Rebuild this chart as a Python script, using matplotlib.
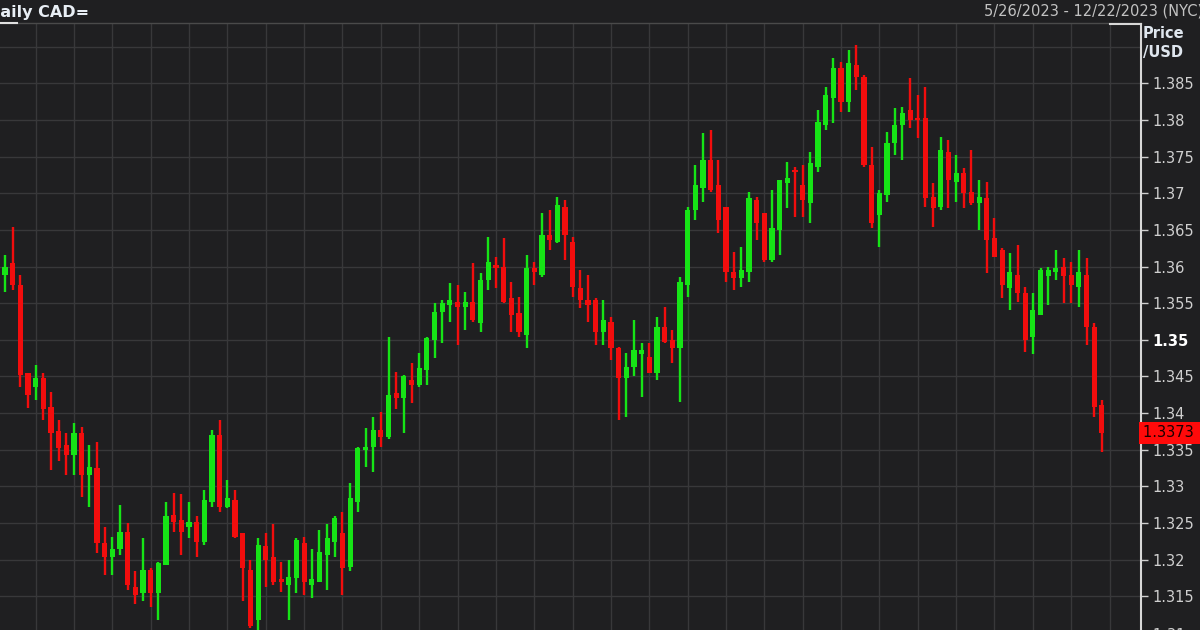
import numpy as np
import matplotlib.pyplot as plt
import matplotlib.transforms as mtransforms

# daily USD/CAD candles (oldest first)
opens = [1.3589, 1.3605, 1.3575, 1.3455, 1.3435, 1.3448, 1.3409, 1.3375, 1.3357, 1.3343,
         1.3373, 1.3316, 1.3325, 1.3223, 1.3204, 1.3214, 1.3238, 1.3163, 1.3155, 1.3186,
         1.3155, 1.3193, 1.3261, 1.3254, 1.3244, 1.3252, 1.3224, 1.3278, 1.3370, 1.3272,
         1.3282, 1.3237, 1.3186, 1.3118, 1.3218, 1.3203, 1.3173, 1.3166, 1.3175, 1.3223,
         1.3166, 1.3170, 1.3207, 1.3224, 1.3237, 1.3190, 1.3279, 1.3350, 1.3354, 1.3377,
         1.3368, 1.3428, 1.3421, 1.3445, 1.3439, 1.3459, 1.3500, 1.3538, 1.3548, 1.3552,
         1.3545, 1.3552, 1.3523, 1.3582, 1.3602, 1.3600, 1.3557, 1.3537, 1.3507, 1.3598,
         1.3589, 1.3643, 1.3634, 1.3681, 1.3634, 1.3571, 1.3555, 1.3555, 1.3510, 1.3525,
         1.3489, 1.3448, 1.3463, 1.3480, 1.3477, 1.3455, 1.3518, 1.3500, 1.3489, 1.3575,
         1.3677, 1.3707, 1.3746, 1.3711, 1.3681, 1.3593, 1.3585, 1.3593, 1.3691, 1.3673,
         1.3609, 1.3650, 1.3714, 1.3732, 1.3711, 1.3687, 1.3736, 1.3793, 1.3830, 1.3871,
         1.3825, 1.3875, 1.3859, 1.3739, 1.3671, 1.3698, 1.3769, 1.3793, 1.3814, 1.3803,
         1.3803, 1.3695, 1.3681, 1.3756, 1.3716, 1.3728, 1.3702, 1.3687, 1.3694, 1.3639,
         1.3623, 1.3571, 1.3589, 1.3564, 1.3504, 1.3534, 1.3587, 1.3593, 1.3600, 1.3589,
         1.3572, 1.3589, 1.3518, 1.3411]
highs = [1.3616, 1.3654, 1.3589, 1.3455, 1.3466, 1.3455, 1.3429, 1.3391, 1.3373, 1.3387,
         1.3381, 1.3357, 1.3360, 1.3244, 1.3231, 1.3275, 1.3250, 1.3184, 1.3230, 1.3189,
         1.3197, 1.3279, 1.3291, 1.3289, 1.3278, 1.3259, 1.3295, 1.3377, 1.3391, 1.3309,
         1.3295, 1.3237, 1.3200, 1.3230, 1.3237, 1.3248, 1.3197, 1.3200, 1.3230, 1.3231,
         1.3214, 1.3241, 1.3248, 1.3259, 1.3265, 1.3305, 1.3354, 1.3380, 1.3395, 1.3402,
         1.3504, 1.3456, 1.3452, 1.3469, 1.3482, 1.3504, 1.3550, 1.3555, 1.3578, 1.3575,
         1.3565, 1.3605, 1.3591, 1.3641, 1.3613, 1.3639, 1.3579, 1.3559, 1.3616, 1.3606,
         1.3673, 1.3677, 1.3695, 1.3691, 1.3641, 1.3595, 1.3589, 1.3557, 1.3555, 1.3531,
         1.3490, 1.3482, 1.3527, 1.3496, 1.3496, 1.3531, 1.3545, 1.3514, 1.3586, 1.3681,
         1.3739, 1.3782, 1.3786, 1.3746, 1.3681, 1.3620, 1.3627, 1.3702, 1.3695, 1.3673,
         1.3705, 1.3718, 1.3743, 1.3736, 1.3739, 1.3756, 1.3814, 1.3845, 1.3885, 1.3879,
         1.3896, 1.3902, 1.3861, 1.3763, 1.3705, 1.3784, 1.3816, 1.3818, 1.3857, 1.3834,
         1.3845, 1.3714, 1.3777, 1.3773, 1.3752, 1.3735, 1.3759, 1.3718, 1.3716, 1.3666,
         1.3625, 1.3619, 1.3630, 1.3572, 1.3564, 1.3598, 1.3600, 1.3623, 1.3612, 1.3606,
         1.3623, 1.3612, 1.3523, 1.3418]
lows = [1.3565, 1.3568, 1.3436, 1.3407, 1.3418, 1.3391, 1.3323, 1.3334, 1.3316, 1.3316,
        1.3286, 1.3272, 1.3209, 1.3179, 1.3179, 1.3207, 1.3159, 1.3139, 1.3143, 1.3136,
        1.3118, 1.3193, 1.3238, 1.3207, 1.3230, 1.3204, 1.3220, 1.3272, 1.3265, 1.3271,
        1.3230, 1.3143, 1.3107, 1.3104, 1.3162, 1.3166, 1.3156, 1.3118, 1.3155, 1.3152,
        1.3148, 1.3169, 1.3159, 1.3204, 1.3152, 1.3184, 1.3265, 1.3327, 1.3320, 1.3354,
        1.3364, 1.3405, 1.3373, 1.3414, 1.3436, 1.3439, 1.3475, 1.3496, 1.3525, 1.3493,
        1.3514, 1.3525, 1.3510, 1.3568, 1.3571, 1.3550, 1.3511, 1.3504, 1.3489, 1.3575,
        1.3586, 1.3623, 1.3632, 1.3609, 1.3559, 1.3544, 1.3525, 1.3493, 1.3493, 1.3473,
        1.3391, 1.3394, 1.3450, 1.3422, 1.3455, 1.3445, 1.3496, 1.3469, 1.3415, 1.3559,
        1.3664, 1.3688, 1.3702, 1.3646, 1.3579, 1.3568, 1.3572, 1.3579, 1.3636, 1.3606,
        1.3606, 1.3616, 1.3680, 1.3668, 1.3668, 1.3660, 1.3729, 1.3786, 1.3796, 1.3811,
        1.3811, 1.3841, 1.3736, 1.3653, 1.3627, 1.3688, 1.3752, 1.3746, 1.3789, 1.3776,
        1.3681, 1.3654, 1.3677, 1.3680, 1.3688, 1.3680, 1.3684, 1.3650, 1.3591, 1.3613,
        1.3557, 1.3541, 1.3552, 1.3484, 1.3480, 1.3534, 1.3548, 1.3582, 1.3550, 1.3550,
        1.3545, 1.3493, 1.3394, 1.3347]
closes = [1.3600, 1.3575, 1.3452, 1.3425, 1.3448, 1.3405, 1.3373, 1.3353, 1.3343, 1.3373,
          1.3316, 1.3327, 1.3223, 1.3203, 1.3214, 1.3238, 1.3166, 1.3152, 1.3186, 1.3155,
          1.3196, 1.3259, 1.3252, 1.3238, 1.3252, 1.3224, 1.3282, 1.3370, 1.3272, 1.3284,
          1.3231, 1.3189, 1.3109, 1.3220, 1.3200, 1.3170, 1.3169, 1.3177, 1.3227, 1.3170,
          1.3173, 1.3211, 1.3230, 1.3257, 1.3189, 1.3284, 1.3353, 1.3354, 1.3377, 1.3368,
          1.3425, 1.3421, 1.3450, 1.3439, 1.3462, 1.3503, 1.3538, 1.3550, 1.3555, 1.3545,
          1.3552, 1.3527, 1.3582, 1.3606, 1.3598, 1.3552, 1.3534, 1.3510, 1.3598, 1.3593,
          1.3643, 1.3636, 1.3684, 1.3643, 1.3572, 1.3555, 1.3548, 1.3511, 1.3527, 1.3489,
          1.3448, 1.3463, 1.3486, 1.3486, 1.3455, 1.3518, 1.3497, 1.3489, 1.3579, 1.3677,
          1.3711, 1.3746, 1.3705, 1.3664, 1.3593, 1.3585, 1.3595, 1.3694, 1.3660, 1.3609,
          1.3653, 1.3718, 1.3721, 1.3729, 1.3691, 1.3741, 1.3797, 1.3834, 1.3871, 1.3825,
          1.3878, 1.3859, 1.3739, 1.3660, 1.3701, 1.3769, 1.3793, 1.3810, 1.3800, 1.3800,
          1.3694, 1.3680, 1.3759, 1.3718, 1.3728, 1.3701, 1.3687, 1.3695, 1.3636, 1.3613,
          1.3575, 1.3593, 1.3564, 1.3500, 1.3541, 1.3595, 1.3595, 1.3598, 1.3587, 1.3575,
          1.3593, 1.3518, 1.3409, 1.3373]

ytick_vals = [1.385, 1.38, 1.375, 1.37, 1.365, 1.36, 1.355, 1.35, 1.345, 1.34,
              1.335, 1.33, 1.325, 1.32, 1.315]
last_price = "1.3373"

bg = '#1f1f21'
grid_c = '#38383a'
up_c = '#16e416'
down_c = '#f20d0d'
text_c = '#cfcfcf'

o = np.array(opens)
h = np.array(highs)
l = np.array(lows)
c = np.array(closes)
x = np.arange(len(o))
up = c >= o
cols = np.where(up, up_c, down_c)

fig = plt.figure(figsize=(12, 6.3), dpi=100)
fig.patch.set_facecolor(bg)
ax = fig.add_axes([0, 0, 1141 / 1200, 1 - 24 / 630])
ax.set_facecolor(bg)

# grid: weekly verticals, 0.005 horizontals
for gx in range(4, len(o) + 5, 5):
    ax.axvline(gx, color=grid_c, lw=1.0, zorder=0)
for gy in np.arange(1.31, 1.3951, 0.005):
    ax.axhline(gy, color=grid_c, lw=1.0, zorder=0)

# candles
ax.vlines(x, l, h, colors=cols, lw=1.7, zorder=2)
body_lo = np.minimum(o, c)
body_h = np.maximum(np.abs(c - o), 0.0003)
ax.bar(x, body_h, bottom=body_lo, width=0.68, color=cols, edgecolor='none', zorder=3)

ax.set_xlim(-0.65, 148.1)
ax.set_ylim(1.3104, 1.3931)

for s in ['left', 'bottom', 'top']:
    ax.spines[s].set_visible(False)
ax.spines['right'].set_color('#d8d8d8')
ax.spines['right'].set_linewidth(1.5)
ax.set_xticks([])
ax.yaxis.tick_right()
ax.set_yticks(ytick_vals)
ax.set_yticklabels([f"{v:.3f}".rstrip('0') for v in ytick_vals])
ax.tick_params(axis='y', colors=text_c, length=5, width=1, pad=3, labelsize=10.5)
for lab in ax.get_yticklabels():
    if lab.get_text() == '1.35':
        lab.set_fontweight('bold')
        lab.set_color('#ffffff')

# 1.31 sits just below the visible range, cut by the image edge
trans = mtransforms.blended_transform_factory(ax.transAxes, ax.transData)
ax.text(1.0, 1.3096, '\u2013 1.31', transform=trans, color=text_c, fontsize=10.5,
        va='center', ha='left', clip_on=False)

# last price marker
ax.text(1.0 + 2 / 1141, float(last_price), last_price + ' ', transform=trans, color='#1a0000',
        fontsize=10.5, va='center', ha='left', clip_on=False,
        bbox=dict(boxstyle='square,pad=0.25', fc='#ff0a0a', ec='none'))

# header
fig.text(1143 / 1200, 1 - 34 / 630, 'Price', color='#dfe6ee', fontsize=10.5,
         fontweight='bold', va='center', ha='left')
fig.text(1143 / 1200, 1 - 53 / 630, '/USD', color='#dfe6ee', fontsize=10.5,
         fontweight='bold', va='center', ha='left')
fig.text(-13 / 1200, 1 - 12 / 630, 'Daily CAD=', color='#e8eef4', fontsize=11.5,
         fontweight='bold', va='center', ha='left')
fig.text(1203 / 1200, 1 - 11 / 630, '5/26/2023 - 12/22/2023 (NYC)', color='#c2c2c2',
         fontsize=10.5, va='center', ha='right')

# header separator lines
fig.add_artist(plt.Line2D([0, 1141 / 1200], [1 - 23 / 630] * 2, color='#4a4a4a', lw=1))
fig.add_artist(plt.Line2D([0, 17 / 1200], [1 - 23 / 630] * 2, color='#e0e0e0', lw=1.5))
fig.add_artist(plt.Line2D([1110 / 1200, 1141 / 1200], [1 - 24 / 630] * 2, color='#d8d8d8', lw=1.5))

fig.savefig('out.png', dpi=100, facecolor=bg)
